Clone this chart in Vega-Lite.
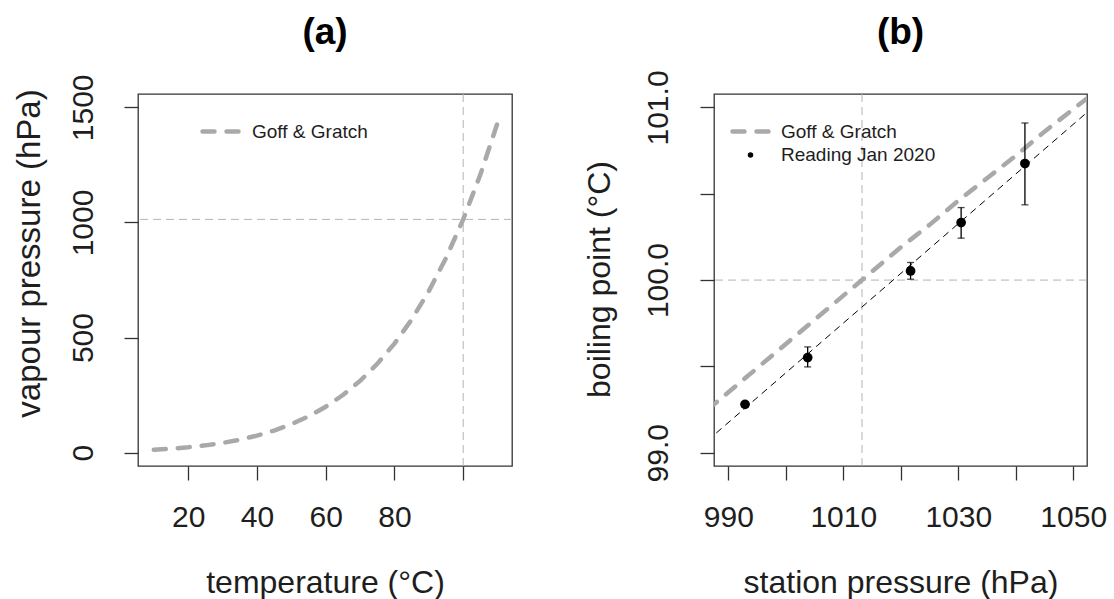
{
  "$schema": "https://vega.github.io/schema/vega-lite/v6.json",
  "background": "white",
  "padding": {"left": 12, "top": 13, "right": 5, "bottom": 0},
  "bounds": "flush",
  "spacing": 202,
  "resolve": {"scale": {"color": "independent"}, "legend": {"color": "independent"}},
  "datasets": {
    "gg": [
      {"T": 10, "e": 12.28, "series": "Goff & Gratch"},
      {"T": 15, "e": 17.05, "series": "Goff & Gratch"},
      {"T": 20, "e": 23.39, "series": "Goff & Gratch"},
      {"T": 25, "e": 31.69, "series": "Goff & Gratch"},
      {"T": 30, "e": 42.47, "series": "Goff & Gratch"},
      {"T": 35, "e": 56.29, "series": "Goff & Gratch"},
      {"T": 40, "e": 73.84, "series": "Goff & Gratch"},
      {"T": 45, "e": 95.93, "series": "Goff & Gratch"},
      {"T": 50, "e": 123.4, "series": "Goff & Gratch"},
      {"T": 55, "e": 157.5, "series": "Goff & Gratch"},
      {"T": 60, "e": 199.4, "series": "Goff & Gratch"},
      {"T": 65, "e": 250.3, "series": "Goff & Gratch"},
      {"T": 70, "e": 311.8, "series": "Goff & Gratch"},
      {"T": 75, "e": 385.8, "series": "Goff & Gratch"},
      {"T": 80, "e": 473.7, "series": "Goff & Gratch"},
      {"T": 85, "e": 578.1, "series": "Goff & Gratch"},
      {"T": 90, "e": 701.4, "series": "Goff & Gratch"},
      {"T": 95, "e": 845.6, "series": "Goff & Gratch"},
      {"T": 100, "e": 1013.2, "series": "Goff & Gratch"},
      {"T": 105, "e": 1208.0, "series": "Goff & Gratch"},
      {"T": 110, "e": 1432.6, "series": "Goff & Gratch"}
    ],
    "ggb": [
      {"p": 980, "t": 99.07, "series": "Goff & Gratch"},
      {"p": 985, "t": 99.21, "series": "Goff & Gratch"},
      {"p": 990, "t": 99.35, "series": "Goff & Gratch"},
      {"p": 995, "t": 99.49, "series": "Goff & Gratch"},
      {"p": 1000, "t": 99.63, "series": "Goff & Gratch"},
      {"p": 1005, "t": 99.77, "series": "Goff & Gratch"},
      {"p": 1010, "t": 99.91, "series": "Goff & Gratch"},
      {"p": 1013.25, "t": 100.0, "series": "Goff & Gratch"},
      {"p": 1015, "t": 100.05, "series": "Goff & Gratch"},
      {"p": 1020, "t": 100.19, "series": "Goff & Gratch"},
      {"p": 1025, "t": 100.32, "series": "Goff & Gratch"},
      {"p": 1030, "t": 100.46, "series": "Goff & Gratch"},
      {"p": 1035, "t": 100.59, "series": "Goff & Gratch"},
      {"p": 1040, "t": 100.72, "series": "Goff & Gratch"},
      {"p": 1045, "t": 100.86, "series": "Goff & Gratch"},
      {"p": 1050, "t": 100.99, "series": "Goff & Gratch"},
      {"p": 1055, "t": 101.12, "series": "Goff & Gratch"},
      {"p": 1060, "t": 101.25, "series": "Goff & Gratch"}
    ],
    "obs": [
      {"p": 992.9, "t": 99.28, "lo": 99.265, "hi": 99.295, "series": "Reading Jan 2020"},
      {"p": 1003.8, "t": 99.551, "lo": 99.497, "hi": 99.613, "series": "Reading Jan 2020"},
      {"p": 1021.7, "t": 100.053, "lo": 100.005, "hi": 100.102, "series": "Reading Jan 2020"},
      {"p": 1030.5, "t": 100.333, "lo": 100.243, "hi": 100.42, "series": "Reading Jan 2020"},
      {"p": 1041.6, "t": 100.675, "lo": 100.436, "hi": 100.91, "series": "Reading Jan 2020"}
    ],
    "fit": [
      {"p": 980, "t": 98.887},
      {"p": 1060, "t": 101.19}
    ],
    "refa": [{"T": 100, "e": 1013.25}],
    "refb": [{"p": 1013.25, "t": 100}]
  },
  "config": {
    "font": "Liberation Sans",
    "view": {"stroke": "#333333", "strokeWidth": 1.3},
    "axis": {
      "grid": false, "domain": false, "ticks": true,
      "tickColor": "#333333", "tickWidth": 1.3, "tickSize": 14,
      "labelFont": "Liberation Sans", "labelFontSize": 30, "labelColor": "#1e1e1e",
      "titleFont": "Liberation Sans", "titleFontSize": 32, "titleFontWeight": "normal", "titleColor": "#1e1e1e",
      "labelOverlap": false, "labelFlush": false, "labelBound": false
    },
    "legend": {
      "orient": "none", "title": null, "padding": 0, "symbolSize": 529, "rowPadding": 3.5,
      "labelFont": "Liberation Sans", "labelFontSize": 19, "labelColor": "#1e1e1e"
    },
    "title": {"font": "Liberation Sans", "fontSize": 37, "fontWeight": "bold", "color": "black", "anchor": "middle", "baseline": "alphabetic", "frame": "group"}
  },
  "hconcat": [
    {
      "width": 374, "height": 372,
      "title": {"text": "(a)", "offset": 22},
      "layer": [
        {
          "data": {"name": "refa"},
          "mark": {"type": "rule", "color": "#b4b4b4", "strokeWidth": 1, "strokeDash": [8, 5]},
          "encoding": {"y": {"field": "e", "type": "quantitative", "title": "vapour pressure (hPa)", "scale": {"domain": [-58, 1558], "nice": false, "zero": false}}}
        },
        {
          "data": {"name": "refa"},
          "mark": {"type": "rule", "color": "#b4b4b4", "strokeWidth": 1, "strokeDash": [8, 5]},
          "encoding": {"x": {"field": "T", "type": "quantitative", "title": "temperature (°C)", "scale": {"domain": [5.4, 114.2], "nice": false, "zero": false}}}
        },
        {
          "data": {"name": "gg"},
          "mark": {"type": "line", "strokeWidth": 4.5, "strokeDash": [12, 12], "strokeCap": "round", "clip": true},
          "encoding": {
            "x": {"field": "T", "type": "quantitative", "title": "temperature (°C)",
                  "scale": {"domain": [5.4, 114.2], "nice": false, "zero": false},
                  "axis": {"values": [20, 40, 60, 80, 100], "format": "d", "labelExpr": "datum.value == 100 ? '' : datum.label",
                           "labelPadding": 22, "labelBaseline": "top", "labelAlign": "center", "labelAngle": 0, "titleY": 126, "titleBaseline": "alphabetic", "titleAlign": "center"}},
            "y": {"field": "e", "type": "quantitative", "title": "vapour pressure (hPa)",
                  "scale": {"domain": [-58, 1558], "nice": false, "zero": false},
                  "axis": {"values": [0, 500, 1000, 1500], "format": "d",
                           "labelAngle": 270, "labelAlign": "center", "labelBaseline": "alphabetic", "labelPadding": 32,
                           "titleAngle": 270, "titleBaseline": "alphabetic", "titleAlign": "center", "titleX": -99, "titleY": 159, "titleFontSize": 33}},
            "color": {"field": "series", "type": "nominal",
                      "scale": {"domain": ["Goff & Gratch"], "range": ["#a9a9a9"]},
                      "legend": {"legendX": 62, "legendY": 16, "labelOffset": 9, "symbolType": "stroke", "symbolDash": [12, 12], "symbolStrokeWidth": 4.5,
                                 "encode": {"symbols": {"update": {"size": {"value": 1444}, "strokeCap": {"value": "round"}, "strokeDash": {"value": [12, 12]}, "strokeWidth": {"value": 4.5}, "stroke": {"value": "#a9a9a9"}, "opacity": {"value": 1}}}}}}
          }
        }
      ]
    },
    {
      "width": 373, "height": 372,
      "title": {"text": "(b)", "offset": 18},
      "layer": [
        {
          "data": {"name": "refb"},
          "mark": {"type": "rule", "color": "#b4b4b4", "strokeWidth": 1, "strokeDash": [8, 5]},
          "encoding": {"y": {"field": "t", "type": "quantitative", "title": "boiling point (°C)", "scale": {"domain": [98.923, 101.078], "nice": false, "zero": false}}}
        },
        {
          "data": {"name": "refb"},
          "mark": {"type": "rule", "color": "#b4b4b4", "strokeWidth": 1, "strokeDash": [8, 5]},
          "encoding": {"x": {"field": "p", "type": "quantitative", "title": "station pressure (hPa)", "scale": {"domain": [987.5, 1052.4], "nice": false, "zero": false}}}
        },
        {
          "data": {"name": "ggb"},
          "mark": {"type": "line", "strokeWidth": 4.5, "strokeDash": [12, 12], "strokeCap": "round", "clip": true},
          "encoding": {
            "x": {"field": "p", "type": "quantitative", "title": "station pressure (hPa)",
                  "scale": {"domain": [987.5, 1052.4], "nice": false, "zero": false},
                  "axis": {"values": [990, 1000, 1010, 1020, 1030, 1040, 1050], "format": "d", "labelExpr": "(datum.value - 990) % 20 == 0 ? datum.label : ''",
                           "labelPadding": 22, "labelBaseline": "top", "labelAlign": "center", "labelAngle": 0, "titleY": 126, "titleBaseline": "alphabetic", "titleAlign": "center"}},
            "y": {"field": "t", "type": "quantitative", "title": "boiling point (°C)",
                  "scale": {"domain": [98.923, 101.078], "nice": false, "zero": false},
                  "axis": {"values": [99, 99.5, 100, 100.5, 101], "format": ".1f", "labelExpr": "datum.value % 1 == 0 ? datum.label : ''",
                           "labelAngle": 270, "labelAlign": "center", "labelBaseline": "alphabetic", "labelPadding": 33,
                           "titleAngle": 270, "titleBaseline": "alphabetic", "titleAlign": "center", "titleX": -105, "titleY": 185}},
            "color": {"field": "series", "type": "nominal",
                      "scale": {"domain": ["Goff & Gratch", "Reading Jan 2020"], "range": ["#a9a9a9", "black"]},
                      "legend": {"legendX": 27, "legendY": 28, "labelOffset": 21,
                                 "encode": {"symbols": {"update": {
                                   "shape": {"signal": "datum.value === 'Goff & Gratch' ? 'stroke' : 'circle'"},
                                   "size": {"signal": "datum.value === 'Goff & Gratch' ? 1296 : 30"},
                                   "strokeDash": {"signal": "datum.value === 'Goff & Gratch' ? [12, 12] : [1, 0]"},
                                   "strokeWidth": {"signal": "datum.value === 'Goff & Gratch' ? 4.5 : 0"},
                                   "strokeCap": {"value": "round"},
                                   "stroke": {"signal": "datum.value === 'Goff & Gratch' ? '#a9a9a9' : 'black'"},
                                   "fill": {"signal": "datum.value === 'Goff & Gratch' ? 'transparent' : 'black'"},
                                   "opacity": {"value": 1}
                                 }}}}}
          }
        },
        {
          "data": {"name": "fit"},
          "mark": {"type": "line", "color": "black", "strokeWidth": 1, "strokeDash": [7, 5], "clip": true},
          "encoding": {
            "x": {"field": "p", "type": "quantitative", "title": "station pressure (hPa)", "scale": {"domain": [987.5, 1052.4], "nice": false, "zero": false}},
            "y": {"field": "t", "type": "quantitative", "title": "boiling point (°C)", "scale": {"domain": [98.923, 101.078], "nice": false, "zero": false}}
          }
        },
        {
          "data": {"name": "obs"},
          "mark": {"type": "rule", "color": "black", "strokeWidth": 1.3},
          "encoding": {
            "x": {"field": "p", "type": "quantitative", "title": "station pressure (hPa)", "scale": {"domain": [987.5, 1052.4], "nice": false, "zero": false}},
            "y": {"field": "lo", "type": "quantitative", "title": "boiling point (°C)", "scale": {"domain": [98.923, 101.078], "nice": false, "zero": false}},
            "y2": {"field": "hi"}
          }
        },
        {
          "data": {"name": "obs"},
          "mark": {"type": "tick", "color": "black", "orient": "horizontal", "size": 7, "thickness": 1.3},
          "encoding": {
            "x": {"field": "p", "type": "quantitative", "title": "station pressure (hPa)", "scale": {"domain": [987.5, 1052.4], "nice": false, "zero": false}},
            "y": {"field": "lo", "type": "quantitative", "title": "boiling point (°C)", "scale": {"domain": [98.923, 101.078], "nice": false, "zero": false}}
          }
        },
        {
          "data": {"name": "obs"},
          "mark": {"type": "tick", "color": "black", "orient": "horizontal", "size": 7, "thickness": 1.3},
          "encoding": {
            "x": {"field": "p", "type": "quantitative", "title": "station pressure (hPa)", "scale": {"domain": [987.5, 1052.4], "nice": false, "zero": false}},
            "y": {"field": "hi", "type": "quantitative", "title": "boiling point (°C)", "scale": {"domain": [98.923, 101.078], "nice": false, "zero": false}}
          }
        },
        {
          "data": {"name": "obs"},
          "mark": {"type": "point", "filled": true, "size": 95, "opacity": 1},
          "encoding": {
            "x": {"field": "p", "type": "quantitative", "title": "station pressure (hPa)", "scale": {"domain": [987.5, 1052.4], "nice": false, "zero": false}},
            "y": {"field": "t", "type": "quantitative", "title": "boiling point (°C)", "scale": {"domain": [98.923, 101.078], "nice": false, "zero": false}},
            "color": {"field": "series", "type": "nominal", "scale": {"domain": ["Goff & Gratch", "Reading Jan 2020"], "range": ["#a9a9a9", "black"]}}
          }
        }
      ]
    }
  ]
}
